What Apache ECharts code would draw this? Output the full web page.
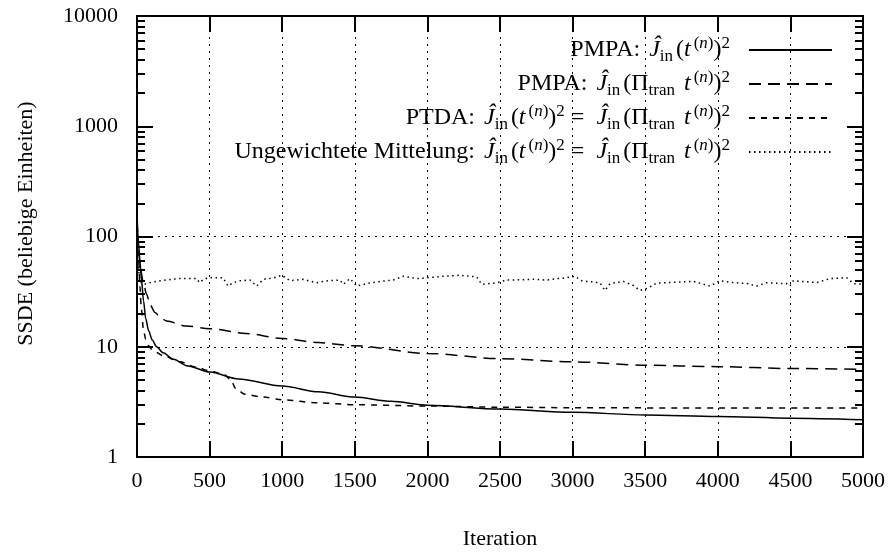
<!DOCTYPE html>
<html>
<head>
<meta charset="utf-8">
<script src="https://cdn.jsdelivr.net/npm/echarts@6/dist/echarts.min.js"></script>
<style>html,body{margin:0;padding:0;background:#fff}#c{width:894px;height:555px}</style>
</head>
<body>
<div id="c"></div>
<script>
// ---- data ----
const xTicks = [0, 500, 1000, 1500, 2000, 2500, 3000, 3500, 4000, 4500, 5000];
const yTicks = [1, 10, 100, 1000, 10000];
const yMinorTicks = [2,3,4,5,6,7,8,9,20,30,40,50,60,70,80,90,200,300,400,500,600,700,800,900,2000,3000,4000,5000,6000,7000,8000,9000];
const seriesNames = ['PMPA_t', 'PMPA_pi', 'PTDA', 'Ungewichtet'];

const pmpaTIter = [0, 10, 20, 30, 45, 60, 80, 105, 135, 180, 250, 350, 500, 700, 1000, 1250, 1500, 1750, 2000, 2500, 3000, 3500, 4000, 4500, 5000];
const pmpaTVal  = [160, 90, 60, 42, 26, 18, 14, 11.5, 10, 8.8, 7.7, 6.7, 5.9, 5.1, 4.4, 3.9, 3.5, 3.2, 2.95, 2.72, 2.54, 2.41, 2.33, 2.25, 2.18];

const pmpaPiIter = [0, 10, 25, 45, 66, 90, 124, 160, 204, 342, 500, 750, 1000, 1250, 1500, 2000, 2500, 3000, 3500, 4000, 4500, 5000];
const pmpaPiVal  = [110, 75, 50, 37, 30, 24, 20.5, 18.5, 17.1, 15.4, 14.6, 13.2, 11.9, 10.9, 10.2, 8.7, 7.8, 7.3, 6.8, 6.6, 6.35, 6.25];

const ptdaIter = [0, 10, 20, 30, 45, 60, 80, 110, 180, 295, 410, 500, 600, 640, 686, 744, 868, 1000, 1250, 1500, 2000, 2500, 3000, 4000, 5000];
const ptdaVal  = [160, 70, 35, 22, 14, 11.7, 10.2, 9.2, 8.3, 7.3, 6.5, 6.05, 5.6, 5.1, 4.1, 3.7, 3.5, 3.3, 3.1, 2.98, 2.9, 2.83, 2.8, 2.78, 2.78];

const ungewIter = [0,15,30,45,100,180,300,410,430,460,500,592,627,660,710,778,824,870,940,996,1054,1144,1237,1300,1398,1421,1467,1513,1605,1700,1765,1834,1926,2020,2109,2224,2339,2374,2477,2546,2650,2729,2821,2900,2959,3017,3062,3188,3223,3257,3349,3418,3464,3521,3579,3700,3831,3946,4015,4107,4200,4267,4336,4474,4497,4520,4681,4773,4888,4934,5000];
const ungewVal  = [65,45,38,36.7,38.5,40,41.7,41.7,38.2,41,42.3,42.3,35.5,38,39.7,40.3,35.5,40.9,42,44.5,39.7,40.9,38,39.5,40.3,36.8,41.5,35.5,38,39.5,40.3,43.6,41.5,42.5,43.6,44.5,43,36.8,38,40.3,40.5,40.9,40.3,41.5,42.3,43.6,39.7,38,32.4,37.3,39.2,35.9,32.4,34.1,37.8,38.5,39.2,35.5,39.7,38.2,37.5,35.5,38,37.4,35.5,39.7,38.2,41.5,42.3,37.4,36.8];

// ---- legend labels (rich text) ----
const J = '{s|}{i|Ĵ}{sub|in}{s|}';
const tn = '{i|t}{s|}{sup|(}{supi|n}{sup|)}';
const A = J + '{r|(}' + tn + '{r|)}{sup|2}';
const B = J + '{r|(Π}{sub|tran}{r| }{s|}' + tn + '{r|)}{sup|2}';
const legendText = {
  'PMPA_t': '{r|PMPA: }' + A + '{g|}',
  'PMPA_pi': '{r|PMPA: }' + B + '{g|}',
  'PTDA': '{r|PTDA: }' + A + '{r| = }{s|}' + B + '{g|}',
  'Ungewichtet': '{r|Ungewichtete Mittelung: }' + A + '{r| = }{s|}' + B + '{g|}'
};

function pairs(xs, ys) { return xs.map((x, i) => [x, ys[i]]); }

const FONT = 'Liberation Serif';
const chart = echarts.init(document.getElementById('c'));

const baseY = {
  type: 'log', logBase: 10, min: 1, max: 10000,
  splitLine: { show: false }
};
const baseX = { type: 'value', min: 0, max: 5000, interval: 500 };

const option = {
  animation: false,
  backgroundColor: '#fff',
  grid: { left: 137, right: 31, top: 16, bottom: 97, containLabel: false },
  legend: {
    orient: 'vertical', align: 'right', right: 61, top: 35,
    itemWidth: 83, itemHeight: 14, itemGap: 4, padding: 0,
    data: seriesNames,
    itemStyle: { opacity: 0 },
    formatter: name => legendText[name],
    textStyle: {
      color: '#000',
      rich: {
        r: { fontFamily: FONT, fontSize: 24, lineHeight: 30, color: '#000' },
        i: { fontFamily: FONT, fontSize: 24, lineHeight: 30, fontStyle: 'italic', color: '#000' },
        sub: { fontFamily: FONT, fontSize: 17, lineHeight: 17, verticalAlign: 'bottom', color: '#000' },
        sup: { fontFamily: FONT, fontSize: 17, lineHeight: 17, verticalAlign: 'top', color: '#000' },
        supi: { fontFamily: FONT, fontSize: 17, lineHeight: 17, verticalAlign: 'top', fontStyle: 'italic', color: '#000' },
        s: { width: 3, lineHeight: 30 },
        g: { width: 14, lineHeight: 30 }
      }
    }
  },
  xAxis: [
    Object.assign({}, baseX, {
      position: 'bottom',
      name: 'Iteration', nameLocation: 'middle', nameGap: 71,
      nameTextStyle: { fontFamily: FONT, fontSize: 22, color: '#000' },
      axisLine: { lineStyle: { color: '#000', width: 2 } },
      axisTick: { inside: true, length: 16, lineStyle: { color: '#000', width: 2 } },
      axisLabel: { fontFamily: FONT, fontSize: 22, color: '#000', margin: 13, showMinLabel: true, showMaxLabel: true, formatter: v => String(v) },
      splitLine: { show: true, lineStyle: { color: '#000', width: 1, type: [2, 5] } }
    }),
    Object.assign({}, baseX, {
      position: 'top',
      axisLine: { lineStyle: { color: '#000', width: 2 } },
      axisTick: { inside: true, length: 16, lineStyle: { color: '#000', width: 2 } },
      axisLabel: { show: false },
      splitLine: { show: false }
    })
  ],
  yAxis: [
    Object.assign({}, baseY, {
      position: 'left',
      name: 'SSDE (beliebige Einheiten)', nameLocation: 'middle', nameGap: 100,
      nameTextStyle: { fontFamily: FONT, fontSize: 22, color: '#000', padding: [0, 0, 0, 26] },
      axisLine: { lineStyle: { color: '#000', width: 2 } },
      axisTick: { inside: true, length: 16, lineStyle: { color: '#000', width: 2 } },
      axisLabel: { fontFamily: FONT, fontSize: 22, color: '#000', margin: 19, formatter: v => String(v) }
    }),
    Object.assign({}, baseY, {
      position: 'left',
      axisLine: { show: false },
      axisTick: { inside: true, length: 8, customValues: yMinorTicks, lineStyle: { color: '#000', width: 2 } },
      axisLabel: { show: false }
    }),
    Object.assign({}, baseY, {
      position: 'right',
      axisLine: { lineStyle: { color: '#000', width: 2 } },
      axisTick: { inside: true, length: 16, lineStyle: { color: '#000', width: 2 } },
      axisLabel: { show: false }
    }),
    Object.assign({}, baseY, {
      position: 'right',
      axisLine: { show: false },
      axisTick: { inside: true, length: 8, customValues: yMinorTicks, lineStyle: { color: '#000', width: 2 } },
      axisLabel: { show: false }
    })
  ],
  series: [
    {
      name: seriesNames[0], type: 'line', symbol: 'none', smooth: 0.3, smoothMonotone: 'x',
      data: pairs(pmpaTIter, pmpaTVal),
      lineStyle: { color: '#000', width: 1.5, type: 'solid' },
      itemStyle: { color: '#000' },
      markLine: {
        silent: true, symbol: 'none', label: { show: false },
        lineStyle: { color: '#000', width: 1, type: [2, 5] },
        data: [{ yAxis: 10 }, { yAxis: 100 }]
      }
    },
    {
      name: seriesNames[1], type: 'line', symbol: 'none', smooth: 0.3, smoothMonotone: 'x',
      data: pairs(pmpaPiIter, pmpaPiVal),
      lineStyle: { color: '#000', width: 1.5, type: [12, 7] },
      itemStyle: { color: '#000' }
    },
    {
      name: seriesNames[2], type: 'line', symbol: 'none', smooth: 0.3, smoothMonotone: 'x',
      data: pairs(ptdaIter, ptdaVal),
      lineStyle: { color: '#000', width: 1.5, type: [6, 6] },
      itemStyle: { color: '#000' }
    },
    {
      name: seriesNames[3], type: 'line', symbol: 'none',
      data: pairs(ungewIter, ungewVal),
      lineStyle: { color: '#000', width: 1.5, type: [1.5, 3.5] },
      itemStyle: { color: '#000' }
    }
  ]
};
chart.setOption(option);
</script>
</body>
</html>
